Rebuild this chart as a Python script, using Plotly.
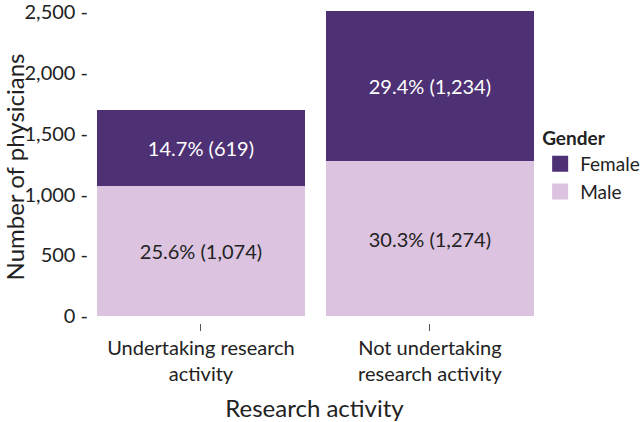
import plotly.graph_objects as go

activity = ['Undertaking research<br>activity', 'Not undertaking<br>research activity']
male = [1074, 1274]
female = [619, 1234]
yticks = [0, 500, 1000, 1500, 2000, 2500]

total = sum(male) + sum(female)
male_txt = [f"{v / total * 100:.1f}% ({v:,})" for v in male]
female_txt = [f"{v / total * 100:.1f}% ({v:,})" for v in female]

font = 'Lato, "Open Sans", sans-serif'
dark = '#4E3074'
light = '#DCC3E0'

fig = go.Figure([
    go.Bar(x=activity, y=male, name='Male', marker_color=light, marker_line_width=0,
           text=male_txt, textposition='inside', insidetextanchor='middle',
           textfont=dict(color='#222222', size=20), width=0.908, showlegend=False),
    go.Bar(x=activity, y=female, name='Female', marker_color=dark, marker_line_width=0,
           text=female_txt, textposition='inside', insidetextanchor='middle',
           textfont=dict(color='white', size=20), width=0.908, showlegend=False),
    # legend entries with larger square keys
    go.Scatter(x=[None], y=[None], mode='markers', name='Female',
               marker=dict(symbol='square', size=18, color=dark)),
    go.Scatter(x=[None], y=[None], mode='markers', name='Male',
               marker=dict(symbol='square', size=18, color=light)),
])

fig.update_layout(
    barmode='stack',
    width=640, height=422,
    margin=dict(l=89, r=100, t=11, b=99),
    plot_bgcolor='white', paper_bgcolor='white',
    font=dict(family=font, size=20, color='#222222'),
    uniformtext=dict(minsize=20, mode='show'),
    legend=dict(title=dict(text='<b>Gender</b>', font=dict(size=19)), traceorder='normal',
                xref='container', yref='container', x=0.844, xanchor='left',
                y=0.715, yanchor='top', font=dict(size=19),
                itemsizing='trace', tracegroupgap=0),
)
fig.update_xaxes(range=[-0.489, 1.481], showgrid=False, ticks='outside', ticklen=7,
                 tickcolor='#555555', automargin=False,
                 title=dict(text='Research activity', standoff=16),
                 tickfont=dict(size=20))
fig.update_yaxes(range=[-57, 2510], tickvals=yticks, ticktext=[f"{t:,} -" for t in yticks],
                 showgrid=False, zeroline=False, ticks='', automargin=False,
                 ticklabeloverflow='allow',
                 title=dict(text='Number of physicians', standoff=20),
                 tickfont=dict(size=20))

fig.write_html("out.html", config={'displayModeBar': False},
               post_script="document.body.style.margin='0';")
